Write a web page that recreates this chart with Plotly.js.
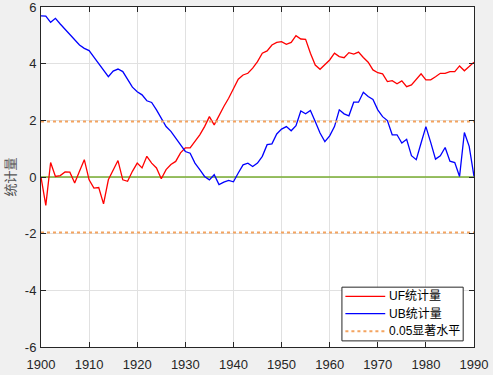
<!DOCTYPE html>
<html>
<head>
<meta charset="utf-8">
<script src="https://cdn.plot.ly/plotly-3.0.1.min.js"></script>
<style>html,body{margin:0;padding:0;background:#f0f0f0;}#chart{width:493px;height:375px;}</style>
</head>
<body>
<div id="chart"></div>
<script>
const years = [];
for (let y = 1900; y <= 1990; y++) years.push(y);

const UF = [0, -1.0, 0.51, 0.02, 0.05, 0.18, 0.17, -0.21, 0.2, 0.61,
  -0.1, -0.39, -0.37, -0.95, -0.1, 0.25, 0.58, -0.1, -0.15, 0.2,
  0.49, 0.32, 0.73, 0.49, 0.32, -0.06, 0.26, 0.44, 0.55, 0.85,
  1.03, 1.03, 1.25, 1.49, 1.78, 2.13, 1.84, 2.19, 2.49, 2.78,
  3.13, 3.45, 3.6, 3.66, 3.84, 4.07, 4.37, 4.45, 4.66, 4.75,
  4.78, 4.68, 4.75, 4.99, 4.87, 4.86, 4.37, 3.95, 3.8, 3.95,
  4.13, 4.37, 4.25, 4.21, 4.39, 4.34, 4.41, 4.22, 4.05, 3.78,
  3.68, 3.64, 3.37, 3.4, 3.29, 3.39, 3.19, 3.25, 3.43, 3.64,
  3.43, 3.43, 3.54, 3.66, 3.66, 3.72, 3.72, 3.92, 3.75, 3.9, 4.05];

const UB = [5.69, 5.68, 5.46, 5.6, 5.4, 5.21, 5.04, 4.86, 4.66, 4.54,
  4.46, 4.23, 3.99, 3.75, 3.54, 3.74, 3.81, 3.72, 3.43, 3.17,
  3.01, 2.9, 2.69, 2.63, 2.37, 2.08, 1.78, 1.61, 1.37, 1.1,
  0.9, 0.84, 0.49, 0.26, 0.02, -0.1, 0.08, -0.27, -0.18, -0.12,
  -0.17, 0.14, 0.43, 0.49, 0.37, 0.49, 0.73, 1.14, 1.17, 1.52,
  1.69, 1.78, 1.63, 1.81, 2.33, 2.23, 2.35, 1.96, 1.55, 1.25,
  1.45, 1.78, 2.37, 2.23, 2.16, 2.64, 2.64, 2.99, 2.84, 2.74,
  2.37, 2.13, 1.99, 1.49, 1.49, 1.2, 1.33, 0.75, 0.61, 1.2,
  1.78, 1.22, 0.63, 0.75, 1.04, 0.56, 0.51, 0.02, 1.57, 1.08, 0.02];

const sigLevel = 1.96;
const xRange = [1900, 1990];
const yTicks = [-6, -4, -2, 0, 2, 4, 6];
const xTicks = [1900, 1910, 1920, 1930, 1940, 1950, 1960, 1970, 1980, 1990];
const names = ['UF统计量', 'UB统计量', '0.05显著水平'];

const cUF = '#ff0000', cUB = '#0000ff', cSig = '#f4a460', cZero = '#77ac30';

const traces = [
  {x: xRange, y: [0, 0], mode: 'lines', line: {color: cZero, width: 1.5}, showlegend: false, hoverinfo: 'skip'},
  {x: years, y: UF, mode: 'lines', name: names[0], line: {color: cUF, width: 1.3}, showlegend: false},
  {x: years, y: UB, mode: 'lines', name: names[1], line: {color: cUB, width: 1.3}, showlegend: false},
  {x: xRange, y: [sigLevel, sigLevel], mode: 'lines', name: names[2], line: {color: cSig, width: 2, dash: 'dot'}, showlegend: false},
  {x: xRange, y: [-sigLevel, -sigLevel], mode: 'lines', showlegend: false, line: {color: cSig, width: 2, dash: 'dot'}}
];

// Custom compact legend (paper coordinates)
const legBox = {x0: 0.695, x1: 0.975, y0: 0.018, y1: 0.176};
const legRows = [0.149, 0.098, 0.046];
const legStyles = [{color: cUF, width: 1.3}, {color: cUB, width: 1.3}, {color: cSig, width: 2, dash: 'dot'}];
const shapes = [{type: 'rect', xref: 'paper', yref: 'paper', x0: legBox.x0, x1: legBox.x1, y0: legBox.y0, y1: legBox.y1,
  fillcolor: '#ffffff', line: {color: '#262626', width: 1}, layer: 'above'}];
const annotations = [];
names.forEach((n, i) => {
  shapes.push({type: 'line', xref: 'paper', yref: 'paper', x0: 0.703, x1: 0.795, y0: legRows[i], y1: legRows[i],
    line: legStyles[i], layer: 'above'});
  annotations.push({xref: 'paper', yref: 'paper', x: 0.799, y: legRows[i], xanchor: 'left', yanchor: 'middle',
    text: n, showarrow: false, font: {family: 'Liberation Sans, Noto Sans CJK SC, sans-serif', size: 12, color: '#000'}});
});

const axisCommon = {
  showline: true, linecolor: '#262626', linewidth: 1, mirror: 'ticks',
  ticks: 'inside', ticklen: 5, tickcolor: '#262626',
  showgrid: true, gridcolor: '#e1e1e1', gridwidth: 1, zeroline: false,
  ticklabeloverflow: 'allow',
  tickfont: {family: 'Liberation Sans, Arial, sans-serif', size: 13, color: '#262626'}
};

const layout = {
  width: 493, height: 375,
  paper_bgcolor: '#f0f0f0', plot_bgcolor: '#ffffff',
  margin: {l: 41, r: 19, t: 7, b: 28},
  xaxis: Object.assign({}, axisCommon, {range: xRange, tickvals: xTicks, ticktext: xTicks.map(String), ticklabelstandoff: 5}),
  yaxis: Object.assign({}, axisCommon, {range: [-6, 6], tickvals: yTicks, ticktext: yTicks.map(String), ticklabelstandoff: 1,
    title: {text: '统计量', font: {family: 'Noto Sans CJK SC, sans-serif', size: 13, color: '#555'}, standoff: 6}}),
  shapes: shapes,
  annotations: annotations,
  showlegend: false
};

Plotly.newPlot('chart', traces, layout, {displayModeBar: false, staticPlot: true});
</script>
</body>
</html>
